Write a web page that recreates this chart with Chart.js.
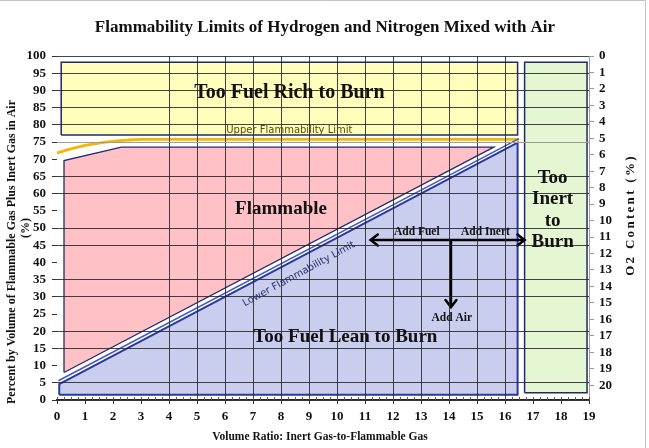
<!DOCTYPE html>
<html>
<head>
<meta charset="utf-8">
<script src="https://cdn.jsdelivr.net/npm/chart.js@4.4.1/dist/chart.umd.min.js"></script>
<style>
  body { margin: 0; background: #fff; }
  #chart { display: block; }
</style>
</head>
<body>
<canvas id="chart" width="649" height="448"></canvas>
<script>
// tick labels
const ratioTicks = [0, 1, 2, 3, 4, 5, 6, 7, 8, 9, 10, 11, 12, 13, 14, 15, 16, 17, 18, 19];
const percentTicks = [0, 5, 10, 15, 20, 25, 30, 35, 40, 45, 50, 55, 60, 65, 70, 75, 80, 85, 90, 95, 100];
const o2Ticks = [0, 1, 2, 3, 4, 5, 6, 7, 8, 9, 10, 11, 12, 13, 14, 15, 16, 17, 18, 19, 20];

// regions (x = inert/flammable ratio, y = % flammable + inert)
const richBoxX = [0.15, 16.45, 16.45, 0.15, 0.15];
const richBoxY = [77.0, 77.0, 98.2, 98.2, 77.0];
const inertBoxX = [16.7, 18.93, 18.93, 16.7, 16.7];
const inertBoxY = [2.1, 2.1, 98.2, 98.2, 2.1];
const flammableX = [0.25, 0.25, 2.3, 15.6, 0.25];
const flammableY = [8.0, 69.6, 73.5, 73.5, 8.0];
const leanX = [0.08, 0.08, 16.45, 16.45, 0.08];
const leanY = [1.5, 4.6, 74.8, 1.5, 1.5];

// limit curves
const uflX = [0, 0.5, 1, 1.5, 2, 2.5, 3, 16.5];
const uflY = [71.8, 73.0, 74.0, 74.7, 75.2, 75.55, 75.75, 75.75];
const lflX = [0.05, 16.5];
const lflY = [5.6, 76.0];

// arrows
const fuelInertX = [11.2, 16.7];
const fuelInertY = [46.5, 46.5];
const airX = [14.07, 14.07];
const airY = [46.5, 27.0];

const serif = '"Liberation Serif", "Times New Roman", serif';
const sans = '"DejaVu Sans", Verdana, sans-serif';
const navy = '#1f2b6e';
const gridColor = 'rgba(35,35,40,0.85)';
const fadedLines = [10, 25, 40, 55, 70]; // lost in the original picture

const pts = (xs, ys) => xs.map((x, i) => ({ x, y: ys[i] }));

function shape(label, xs, ys, fillColor, border, width) {
  return {
    label,
    data: pts(xs, ys),
    backgroundColor: fillColor,
    borderColor: border,
    borderWidth: width,
    fill: 'shape',
    pointRadius: 0,
    tension: 0
  };
}

const notes = [
  { lines: ['Too Fuel Rich to Burn'], x: 8.3, y: 89.2, font: `bold 20px ${serif}`, color: '#111' },
  { lines: ['Flammable'], x: 8.0, y: 55.5, font: `bold 19px ${serif}`, color: '#111' },
  { lines: ['Too Fuel Lean to Burn'], x: 10.3, y: 18.3, font: `bold 19px ${serif}`, color: '#111' },
  { lines: ['Too', 'Inert', 'to', 'Burn'], x: 17.7, y: 55.2, font: `bold 19px ${serif}`, color: '#111', lh: 21.5 },
  { lines: ['Add Fuel'], x: 12.85, y: 48.8, font: `bold 11.5px ${serif}`, color: '#111' },
  { lines: ['Add Inert'], x: 15.3, y: 48.8, font: `bold 11.5px ${serif}`, color: '#111' },
  { lines: ['Add Air'], x: 14.1, y: 23.8, font: `bold 11.5px ${serif}`, color: '#111' },
  { lines: ['Upper Flammability Limit'], x: 8.3, y: 78.4, font: `10px ${sans}`, color: '#574c00' },
  { lines: ['Lower Flammability Limit'], x: 8.64, y: 36.6, font: `10px ${sans}`, color: '#27306a', angle: -28.5 }
];

const arrowHeads = {
  id: 'arrowHeads',
  afterDatasetsDraw(chart) {
    const ctx = chart.ctx;
    chart.data.datasets.forEach((ds, i) => {
      if (!ds.arrowEnds) return;
      const p = chart.getDatasetMeta(i).data;
      const ends = [[p.length - 2, p.length - 1]];
      if (ds.arrowEnds === 'both') ends.push([1, 0]);
      ctx.save();
      ctx.strokeStyle = ds.borderColor;
      ctx.lineWidth = 2.5;
      ctx.lineCap = 'round';
      ends.forEach(([from, tip]) => {
        const a = Math.atan2(p[tip].y - p[from].y, p[tip].x - p[from].x);
        const len = 9, spread = 0.65;
        ctx.beginPath();
        ctx.moveTo(p[tip].x - len * Math.cos(a - spread), p[tip].y - len * Math.sin(a - spread));
        ctx.lineTo(p[tip].x, p[tip].y);
        ctx.lineTo(p[tip].x - len * Math.cos(a + spread), p[tip].y - len * Math.sin(a + spread));
        ctx.stroke();
      });
      ctx.restore();
    });
  }
};

const texts = {
  id: 'texts',
  afterDraw(chart) {
    const { ctx, scales: { x, y } } = chart;
    ctx.save();

    // thin frame of the original picture
    ctx.strokeStyle = '#c4c4c4';
    ctx.lineWidth = 1;
    ctx.beginPath();
    ctx.moveTo(0, 0.5);
    ctx.lineTo(645.5, 0.5);
    ctx.lineTo(645.5, 448);
    ctx.stroke();

    ctx.textAlign = 'center';
    ctx.textBaseline = 'middle';
    ctx.fillStyle = '#111';

    ctx.font = `bold 17px ${serif}`;
    ctx.fillText('Flammability Limits of Hydrogen and Nitrogen Mixed with Air', 325, 28);

    ctx.font = `bold 11.5px ${serif}`;
    ctx.fillText('Volume Ratio: Inert Gas-to-Flammable Gas', 320, 437);

    ctx.save();
    ctx.translate(12, 252);
    ctx.rotate(-Math.PI / 2);
    ctx.font = `bold 12px ${serif}`;
    ctx.fillText('Percent by Volume of Flammable Gas Plus Inert Gas in Air', 0, 0);
    ctx.restore();

    ctx.save();
    ctx.translate(26, 228);
    ctx.rotate(-Math.PI / 2);
    ctx.font = `bold 12px ${serif}`;
    ctx.fillText('(%)', 0, 0);
    ctx.restore();

    ctx.save();
    ctx.translate(631, 216);
    ctx.rotate(-Math.PI / 2);
    ctx.font = `bold 13px ${serif}`;
    ctx.letterSpacing = '2.3px';
    ctx.fillText('O2 Content (%)', 1, 0);
    ctx.restore();

    // minor ticks along the bottom axis
    ctx.strokeStyle = '#555';
    ctx.lineWidth = 1;
    for (let v = 0; v <= 19; v += 0.25) {
      const px = Math.round(x.getPixelForValue(v)) + 0.5;
      ctx.beginPath();
      ctx.moveTo(px, y.bottom);
      ctx.lineTo(px, y.bottom - 3);
      ctx.stroke();
    }

    notes.forEach(n => {
      const lh = n.lh || 0;
      ctx.save();
      ctx.translate(x.getPixelForValue(n.x), y.getPixelForValue(n.y));
      if (n.angle) ctx.rotate(n.angle * Math.PI / 180);
      ctx.font = n.font;
      ctx.fillStyle = n.color;
      n.lines.forEach((t, i) => {
        ctx.fillText(t, 0, (i - (n.lines.length - 1) / 2) * lh);
      });
      ctx.restore();
    });
    ctx.restore();
  }
};

const tickFont = { family: serif, size: 13, weight: 'bold' };

new Chart(document.getElementById('chart'), {
  type: 'line',
  data: {
    datasets: [
      { label: 'Add Air', data: pts(airX, airY), borderColor: '#000', borderWidth: 2.5, pointRadius: 0, fill: false, arrowEnds: 'end' },
      { label: 'Add Fuel / Add Inert', data: pts(fuelInertX, fuelInertY), borderColor: '#000', borderWidth: 2.5, pointRadius: 0, fill: false, arrowEnds: 'both' },
      { label: 'Lower Flammability Limit', data: pts(lflX, lflY), borderColor: '#4458c8', borderWidth: 1.5, pointRadius: 0, fill: false },
      { label: 'Upper Flammability Limit', data: pts(uflX, uflY), borderColor: '#f2b705', borderWidth: 2.8, pointRadius: 0, fill: false, cubicInterpolationMode: 'monotone' },
      shape('Too Fuel Lean to Burn', leanX, leanY, '#c9cdee', '#2b3a9a', 2),
      shape('Flammable', flammableX, flammableY, '#ffc0c6', navy, 1.3),
      shape('Too Inert to Burn', inertBoxX, inertBoxY, '#e4f6d2', navy, 1.5),
      shape('Too Fuel Rich to Burn', richBoxX, richBoxY, '#ffffbb', navy, 1.5)
    ]
  },
  options: {
    responsive: false,
    animation: false,
    devicePixelRatio: 1,
    layout: { padding: { top: 56, left: 0, right: 0, bottom: 0 } },
    plugins: { legend: { display: false }, tooltip: { enabled: false } },
    scales: {
      x: {
        type: 'linear',
        min: 0,
        max: 19,
        afterBuildTicks: s => { s.ticks = ratioTicks.map(v => ({ value: v })); },
        afterFit: s => { s.height = 48; },
        grid: {
          z: 1,
          color: c => (c.tick && c.tick.value >= 4 && c.tick.value <= 16) ? gridColor : 'rgba(0,0,0,0)',
          tickColor: '#333',
          tickLength: 4
        },
        border: { color: '#222', width: 1.5, z: 2 },
        ticks: { font: tickFont, color: '#111', padding: 5, maxRotation: 0, autoSkip: false }
      },
      y: {
        position: 'left',
        min: 0,
        max: 100,
        afterBuildTicks: s => { s.ticks = percentTicks.map(v => ({ value: v })); },
        afterFit: s => { s.width = 57; },
        grid: {
          z: 1,
          color: c => {
            const v = c.tick && c.tick.value;
            if (v === 75) return '#9c9c9c';
            if (fadedLines.includes(v)) return 'rgba(0,0,0,0)';
            return gridColor;
          },
          tickColor: '#333',
          tickLength: 5
        },
        border: { display: false },
        ticks: { font: tickFont, color: '#111', padding: 6, autoSkip: false }
      },
      y2: {
        position: 'right',
        reverse: true,
        min: 0,
        max: 20.9,
        afterBuildTicks: s => { s.ticks = o2Ticks.map(v => ({ value: v })); },
        afterFit: s => { s.width = 60; },
        grid: { drawOnChartArea: false, tickColor: '#999', tickLength: 5 },
        border: { color: '#a0a0a0', width: 1 },
        ticks: { font: tickFont, color: '#111', padding: 5, autoSkip: false }
      }
    }
  },
  plugins: [arrowHeads, texts]
});
</script>
</body>
</html>
